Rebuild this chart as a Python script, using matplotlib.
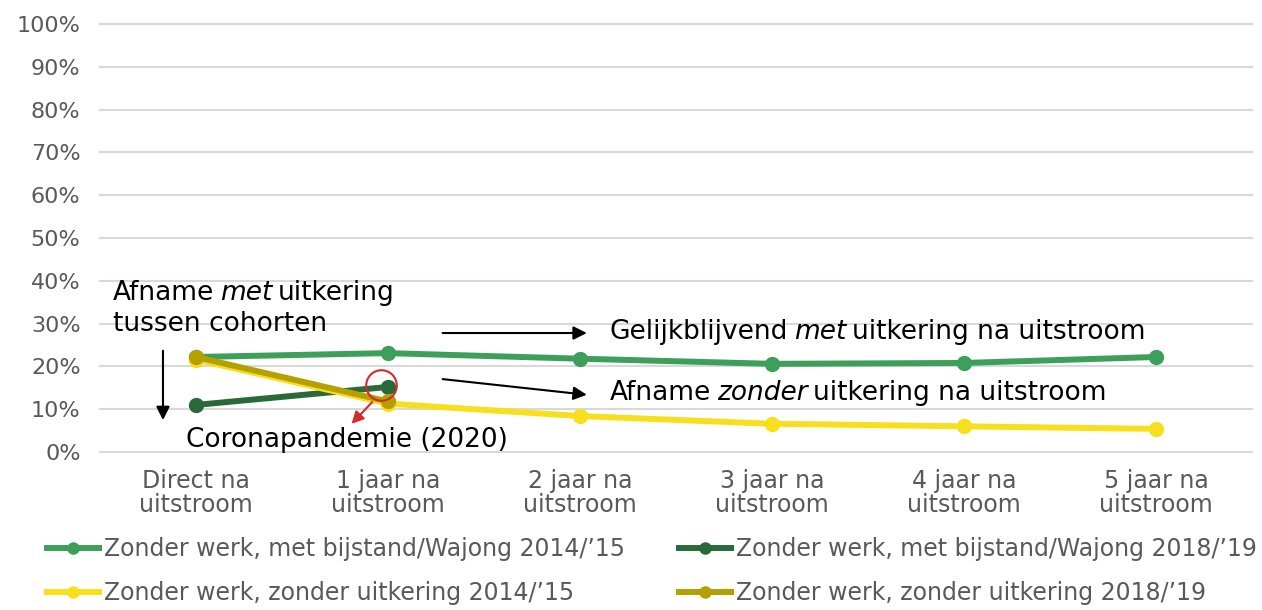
import matplotlib.pyplot as plt
import numpy as np

# categories on the x axis
categories = ["Direct na\nuitstroom", "1 jaar na\nuitstroom", "2 jaar na\nuitstroom",
              "3 jaar na\nuitstroom", "4 jaar na\nuitstroom", "5 jaar na\nuitstroom"]

# series values (%)
met_2014 = [22.2, 23.1, 21.8, 20.6, 20.8, 22.2]
met_2018 = [11.0, 15.2]
zonder_2014 = [21.6, 11.3, 8.4, 6.6, 6.0, 5.4]
zonder_2018 = [22.2, 11.8]

labels = ["Zonder werk, met bijstand/Wajong 2014/\u201915",
          "Zonder werk, met bijstand/Wajong 2018/\u201919",
          "Zonder werk, zonder uitkering 2014/\u201915",
          "Zonder werk, zonder uitkering 2018/\u201919"]

c_green = "#3c9f5a"
c_dgreen = "#2a6a3a"
c_yellow = "#f7df1e"
c_olive = "#b5a000"
grey = "#595959"

plt.rcParams['font.family'] = ['DejaVu Sans']

fig = plt.figure(figsize=(12.62, 6.10), dpi=100)
ax = fig.add_axes([100 / 1262, 158 / 610, 1152 / 1262, 428 / 610])

x = np.arange(len(categories))
lw = 4.3
ms = 10
h1, = ax.plot(x, met_2014, color=c_green, lw=lw, marker='o', ms=ms, zorder=3)
h2, = ax.plot(x[:len(met_2018)], met_2018, color=c_dgreen, lw=lw, marker='o', ms=ms, zorder=4)
h3, = ax.plot(x, zonder_2014, color=c_yellow, lw=lw, marker='o', ms=ms, zorder=5)
h4, = ax.plot(x[:len(zonder_2018)], zonder_2018, color=c_olive, lw=lw, marker='o', ms=ms, zorder=6)

ax.set_xlim(-0.5, len(categories) - 0.5)
ax.set_ylim(0, 100)
ax.set_yticks(np.arange(0, 101, 10))
ax.set_yticklabels([f"{v}%" for v in range(0, 101, 10)])
ax.set_xticks(x)
ax.set_xticklabels(categories, linespacing=1.0)
ax.tick_params(axis='both', length=0, labelcolor=grey)
ax.tick_params(axis='y', pad=14, labelsize=16)
ax.tick_params(axis='x', pad=12, labelsize=17)
ax.grid(axis='y', color="#d9d9d9", lw=1.5, zorder=0)
for gl in ax.get_ygridlines():
    gl.set_clip_on(False)
for s in ax.spines.values():
    s.set_visible(False)

fs = 19
# "Afname met uitkering / tussen cohorten"
t1 = ax.text(-0.432, 37.1, "Afname", fontsize=fs, va='center', ha='left')
t2 = ax.annotate("met", xy=(1, 0), xycoords=t1, xytext=(4, 0), textcoords='offset points',
                 fontsize=fs, style='italic', va='bottom', ha='left')
ax.annotate("uitkering", xy=(1, 0), xycoords=t2, xytext=(4, 0), textcoords='offset points',
            fontsize=fs, va='bottom', ha='left')
ax.text(-0.432, 29.9, "tussen cohorten", fontsize=fs, va='center', ha='left')
ax.annotate("", xy=(-0.172, 6.8), xytext=(-0.172, 24.3),
            arrowprops=dict(arrowstyle='-|>', color='black', lw=1.5, mutation_scale=20))

# Gelijkblijvend met uitkering na uitstroom
ax.annotate("", xy=(2.05, 27.8), xytext=(1.27, 27.8),
            arrowprops=dict(arrowstyle='-|>', color='black', lw=1.5, mutation_scale=20))
g1 = ax.text(2.156, 28.0, "Gelijkblijvend", fontsize=fs, va='center', ha='left')
g2 = ax.annotate("met", xy=(1, 0), xycoords=g1, xytext=(4, 0), textcoords='offset points',
                 fontsize=fs, style='italic', va='bottom', ha='left')
ax.annotate("uitkering na uitstroom", xy=(1, 0), xycoords=g2, xytext=(4, 0),
            textcoords='offset points', fontsize=fs, va='bottom', ha='left')

# Afname zonder uitkering na uitstroom
ax.annotate("", xy=(2.05, 13.3), xytext=(1.27, 17.1),
            arrowprops=dict(arrowstyle='-|>', color='black', lw=1.5, mutation_scale=20))
a1 = ax.text(2.156, 13.8, "Afname", fontsize=fs, va='center', ha='left')
a2 = ax.annotate("zonder", xy=(1, 0), xycoords=a1, xytext=(4, 0), textcoords='offset points',
                 fontsize=fs, style='italic', va='bottom', ha='left')
ax.annotate("uitkering na uitstroom", xy=(1, 0), xycoords=a2, xytext=(4, 0),
            textcoords='offset points', fontsize=fs, va='bottom', ha='left')

# Corona marker
ax.plot([0.964], [15.7], marker='o', ms=22, mfc='none', mec='#d42a2a', mew=1.5, zorder=8)
ax.annotate("", xy=(0.80, 6.1), xytext=(0.927, 12.1),
            arrowprops=dict(arrowstyle='-|>', color='#d42a2a', lw=1.5, mutation_scale=18), zorder=8)
ax.text(-0.052, 2.8, "Coronapandemie (2020)", fontsize=fs, va='center', ha='left')

leg = fig.legend([h1, h3, h2, h4], [labels[0], labels[2], labels[1], labels[3]],
                 ncol=2, loc='lower left', bbox_to_anchor=(26 / 1262, -0.027),
                 frameon=False, fontsize=17, handlelength=2.2, handletextpad=0.2,
                 columnspacing=2.3, labelspacing=0.85, labelcolor=grey, markerscale=0.8)

fig.savefig("out.png", dpi=100)
